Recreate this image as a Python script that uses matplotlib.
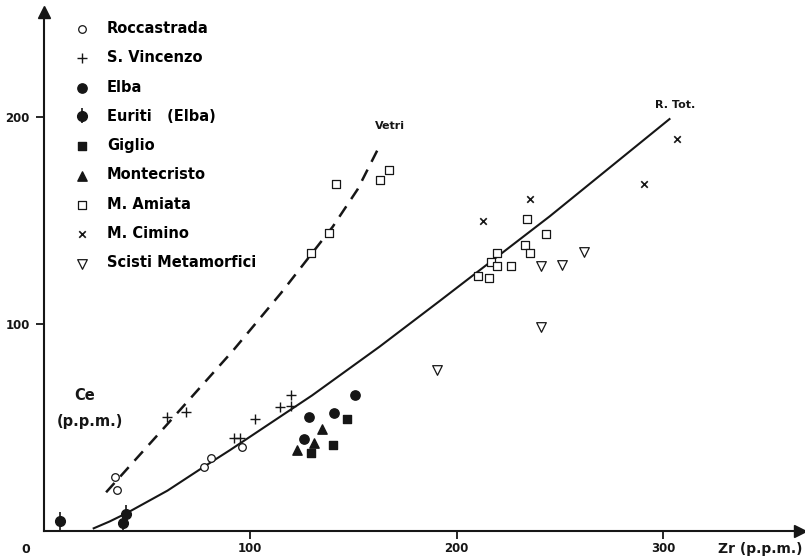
"""Ce vs Zr scatter diagram with Vetri / R. Tot. trend curves."""
import matplotlib
matplotlib.use("Agg")
import matplotlib.pyplot as plt

# --- data (Zr, Ce in p.p.m.) ---
rocc_zr = [34.7, 35.8, 77.6, 81.0, 96.3]
rocc_ce = [26.1, 19.7, 31.1, 35.1, 40.4]

svinc_zr = [59.9, 69.2, 92.1, 94.9, 102.5, 114.7, 120.0, 120.0]
svinc_ce = [54.9, 57.6, 45.1, 45.1, 54.1, 59.8, 65.7, 60.5]

elba_zr = [128.3, 140.8, 151.0, 126.3]
elba_ce = [55.1, 56.9, 65.5, 44.3]

euriti_zr = [7.9, 38.6, 39.7]
euriti_ce = [4.8, 3.7, 8.1]
euriti_err = [4.4, 4.0, 4.4]

giglio_zr = [146.7, 139.9, 129.6]
giglio_ce = [54.1, 41.7, 37.5]

monte_zr = [134.6, 130.7, 122.8]
monte_ce = [49.3, 42.5, 39.1]

amiata_zr = [141.8, 163.1, 167.1, 138.4, 129.7, 233.8, 243.0, 233.2,
             235.6, 219.4, 216.4, 219.4, 226.2, 210.1, 215.5]
amiata_ce = [167.6, 169.6, 174.4, 143.8, 134.4, 150.6, 143.6, 138.0,
             134.3, 134.2, 129.8, 128.2, 128.2, 123.3, 122.2]

cimino_zr = [212.5, 235.6, 290.6, 306.4]
cimino_ce = [149.6, 160.4, 167.5, 189.2]

scisti_zr = [261.5, 240.9, 251.0, 240.9, 190.4]
scisti_ce = [134.8, 128.2, 128.5, 98.7, 77.8]

# trend curves as drawn in the original
vetri_zr = [30.3, 59.4, 91.6, 115.0, 140.0, 152.0, 163.4]
vetri_ce = [18.7, 51.0, 87.0, 115.0, 147.0, 165.0, 187.5]

rtot_zr = [24.3, 32.0, 40.0, 60.0, 77.6, 90.3, 130.0, 162.6, 191.6, 245.0, 303.0]
rtot_ce = [1.3, 4.6, 8.5, 19.5, 31.0, 39.1, 65.5, 89.0, 111.0, 152.0, 199.0]

x_ticks = [100, 200, 300]
y_ticks = [100, 200]

INK = "#161616"
LBL = dict(family=["Liberation Sans Narrow", "DejaVu Sans"], weight="bold")

fig = plt.figure(figsize=(8.05, 5.57), dpi=100)
ax = fig.add_axes([43.5 / 805, 26 / 557, (800 - 43.5) / 805, (531 - 12) / 557])
ax.set_xlim(0, (800 - 43.5) / 2.066)
ax.set_ylim(0, (531 - 12) / 2.07)

# curves
ax.plot(vetri_zr, vetri_ce, color=INK, lw=1.8, ls=(0, (5, 3.5)))
ax.plot(rtot_zr, rtot_ce, color=INK, lw=1.5)

# points
h_rocc = ax.scatter(rocc_zr, rocc_ce, s=30, marker="o", facecolors="white",
                    edgecolors=INK, linewidths=0.9, label="Roccastrada", zorder=3)
h_svinc = ax.scatter(svinc_zr, svinc_ce, s=55, marker="+", color=INK,
                     linewidths=1.0, label="S. Vincenzo", zorder=3)
h_elba = ax.scatter(elba_zr, elba_ce, s=45, marker="o", color=INK,
                    label="Elba", zorder=3)
h_eur = ax.errorbar(euriti_zr, euriti_ce, yerr=euriti_err, fmt="o", ms=7,
                    color=INK, ecolor=INK, elinewidth=1.2, capsize=0,
                    label="Euriti   (Elba)", zorder=3)
h_gig = ax.scatter(giglio_zr, giglio_ce, s=32, marker="s", color=INK,
                   label="Giglio", zorder=3)
h_mont = ax.scatter(monte_zr, monte_ce, s=45, marker="^", color=INK,
                    label="Montecristo", zorder=3)
h_ami = ax.scatter(amiata_zr, amiata_ce, s=38, marker="s", facecolors="white",
                   edgecolors=INK, linewidths=0.9, label="M. Amiata", zorder=3)
h_cim = ax.scatter(cimino_zr, cimino_ce, s=22, marker="x", color=INK,
                   linewidths=1.2, label="M. Cimino", zorder=3)
h_sci = ax.scatter(scisti_zr, scisti_ce, s=48, marker="v", facecolors="white",
                   edgecolors=INK, linewidths=0.9, label="Scisti Metamorfici",
                   zorder=3)

# axes as two arrows
for side in ("top", "right"):
    ax.spines[side].set_visible(False)
for side in ("left", "bottom"):
    ax.spines[side].set_linewidth(1.5)
    ax.spines[side].set_color(INK)
ax.plot(1, 0, ">", color=INK, ms=9, transform=ax.transAxes, clip_on=False)
ax.plot(0, 1, "^", color=INK, ms=9, transform=ax.transAxes, clip_on=False)

ax.set_xticks(x_ticks)
ax.set_yticks(y_ticks)
ax.tick_params(direction="out", length=6, width=1.3, color=INK, labelcolor=INK,
               labelsize=8.5, pad=4)
ax.tick_params(axis="x", pad=2)
for lab in ax.get_xticklabels() + ax.get_yticklabels():
    lab.set_fontfamily(LBL["family"])
    lab.set_fontweight("bold")

# annotations
ax.text(-8.5, -8.8, "0", ha="center", va="center", fontsize=9, color=INK,
        clip_on=False, **LBL)
ax.text(346.7, -8.8, "Zr (p.p.m.)", ha="center", va="center", fontsize=10,
        color=INK, clip_on=False, **LBL)
ax.text(20.1, 65.7, "Ce", ha="center", va="center", fontsize=10.5, color=INK, **LBL)
ax.text(22.5, 52.7, "(p.p.m.)", ha="center", va="center", fontsize=10.5,
        color=INK, **LBL)
ax.text(167.7, 195.7, "Vetri", ha="center", va="center", fontsize=8,
        color=INK, weight="bold")
ax.text(305.6, 205.8, "R. Tot.", ha="center", va="center", fontsize=8,
        color=INK, weight="bold")

handles = [h_rocc, h_svinc, h_elba, h_eur, h_gig, h_mont, h_ami, h_cim, h_sci]
ax.legend(handles=handles, labels=[h.get_label() for h in handles],
          loc="upper left", bbox_to_anchor=(75 / 805, 1 - 21 / 557),
          bbox_transform=fig.transFigure, frameon=False, borderpad=0,
          borderaxespad=0, handlelength=1.0, handletextpad=1.2,
          labelspacing=0.98, prop=dict(size=10.5, **LBL))

fig.savefig("out.png", dpi=100)
plt.close(fig)
